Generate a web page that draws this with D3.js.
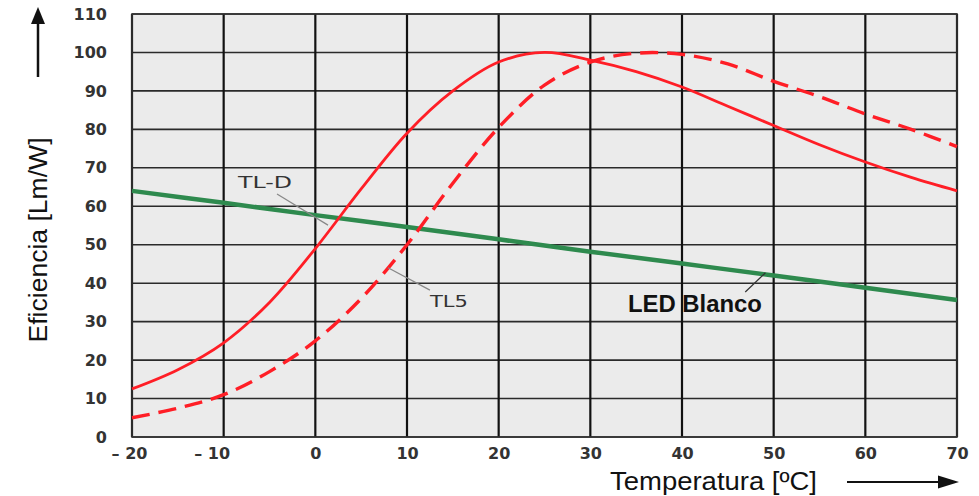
<!DOCTYPE html>
<html><head><meta charset="utf-8">
<script src="https://cdn.jsdelivr.net/npm/d3@7/dist/d3.min.js"></script>
<style>body{margin:0;background:#fff;} svg{display:block;}</style>
</head><body>
<svg id="c" width="979" height="496"></svg>
<script>
// ---- data ----
const temps = [-20,-15,-10,-5,0,5,10,15,20,25,30,35,40,45,50,55,60,65,70];
const tld   = [12.5,17.5,24.5,35,49,64.5,79,90,97.5,100,98,95,91,86,81,76,71.5,67.5,64];
const tl5   = [5,7.5,11,17,25,36,50,66,80.5,91.5,97.5,99.8,99.5,97,92.5,88.5,84,80,75.5];
const ledTemps = [-20,-10,0,10,20,30,40,50,60,70];
const led   = [64,60.9,57.7,54.6,51.4,48.2,45.1,42,38.8,35.6];
const xTicks = [-20,-10,0,10,20,30,40,50,60,70];
const xTickLabels = ["\u2013 20","\u2013 10","0","10","20","30","40","50","60","70"];
const yTicks = [0,10,20,30,40,50,60,70,80,90,100,110];
const annotations = [
  {text:"TL-D", t:-8.44, v:64.8, len:54, size:16, weight:400, font:"DejaVu Sans", color:"#333", line:[[-4.18,63.2],[1.38,55.1]], lc:"#888"},
  {text:"TL5", t:12.5, v:33.8, len:38, size:16, weight:400, font:"DejaVu Sans", color:"#333", line:[[7.93,44.0],[12.5,38.2]], lc:"#888"},
  {text:"LED Blanco", t:34.1, v:32.5, len:134, size:24, weight:700, font:"Liberation Sans", color:"#111", line:[[46.9,37.7],[49.1,42.7]], lc:"#333"}
];

// ---- layout ----
const L=132, R=957, T=14, B=437;
const svg = d3.select("#c");
const x = d3.scaleLinear().domain([-20,70]).range([L,R]);
const y = d3.scaleLinear().domain([0,110]).range([B,T]);

svg.append("rect").attr("x",L).attr("y",T).attr("width",R-L).attr("height",B-T).attr("fill","#ebebeb");

// grid
svg.append("g").selectAll("line").data(yTicks).join("line")
  .attr("x1",L).attr("x2",R).attr("y1",d=>y(d)).attr("y2",d=>y(d))
  .attr("stroke","#2a2a2a").attr("stroke-width",1.6);
svg.append("g").selectAll("line").data(xTicks).join("line")
  .attr("y1",T).attr("y2",B).attr("x1",d=>x(d)).attr("x2",d=>x(d))
  .attr("stroke","#111").attr("stroke-width",2.2);
svg.append("rect").attr("x",L).attr("y",T).attr("width",R-L).attr("height",B-T)
  .attr("fill","none").attr("stroke","#333").attr("stroke-width",1.6);

// axes labels via d3 axes
const yAxis = svg.append("g").attr("transform",`translate(${L},0)`)
  .call(d3.axisLeft(y).tickValues(yTicks).tickSize(0).tickPadding(25));
yAxis.select(".domain").remove();
yAxis.selectAll("text").attr("font-family","DejaVu Sans").attr("font-weight",700)
  .attr("font-size",16).attr("fill","#333");

const xAxis = svg.append("g").attr("transform",`translate(0,${B})`)
  .call(d3.axisBottom(x).tickValues(xTicks).tickSize(0).tickPadding(11)
        .tickFormat((d,i)=>xTickLabels[i]));
xAxis.select(".domain").remove();
xAxis.selectAll("text").attr("font-family","DejaVu Sans").attr("font-weight",700)
  .attr("font-size",16).attr("fill","#333")
  .attr("dx",(d)=> d===-10 ? -12 : (d===-20 ? -3 : 0));

// lines
const line = d3.line().x(d=>x(d[0])).y(d=>y(d[1])).curve(d3.curveCatmullRom.alpha(0.5));
svg.append("path").datum(ledTemps.map((t,i)=>[t,led[i]])).attr("d",line)
  .attr("fill","none").attr("stroke","#2e8a4e").attr("stroke-width",4.5);
svg.append("path").datum(temps.map((t,i)=>[t,tl5[i]])).attr("d",line)
  .attr("fill","none").attr("stroke","#ff1e26").attr("stroke-width",3.4).attr("stroke-dasharray","18,9");
svg.append("path").datum(temps.map((t,i)=>[t,tld[i]])).attr("d",line)
  .attr("fill","none").attr("stroke","#ff1e26").attr("stroke-width",2.8);

// annotations
annotations.forEach(a=>{
  svg.append("line").attr("x1",x(a.line[0][0])).attr("y1",y(a.line[0][1]))
    .attr("x2",x(a.line[1][0])).attr("y2",y(a.line[1][1]))
    .attr("stroke",a.lc).attr("stroke-width",1.2);
  svg.append("text").attr("x",x(a.t)).attr("y",y(a.v)).text(a.text)
    .attr("font-family",a.font).attr("font-size",a.size).attr("font-weight",a.weight)
    .attr("fill",a.color).attr("textLength",a.len).attr("lengthAdjust","spacingAndGlyphs");
});

// titles
svg.append("text").attr("transform","translate(47,240) rotate(-90)").attr("text-anchor","middle")
  .attr("font-family","Liberation Sans").attr("font-size",26).attr("fill","#111")
  .attr("textLength",205).attr("lengthAdjust","spacingAndGlyphs").text("Eficiencia [Lm/W]");
svg.append("text").attr("x",610).attr("y",490)
  .attr("font-family","Liberation Sans").attr("font-size",26).attr("fill","#111")
  .attr("textLength",207).attr("lengthAdjust","spacingAndGlyphs").text("Temperatura [ºC]");

// arrows
svg.append("line").attr("x1",38).attr("x2",38).attr("y1",77).attr("y2",20).attr("stroke","#111").attr("stroke-width",2.5);
svg.append("path").attr("d","M38,7 L31,24 L45,24 Z").attr("fill","#111");
svg.append("line").attr("x1",847).attr("x2",945).attr("y1",482).attr("y2",482).attr("stroke","#111").attr("stroke-width",2.2);
svg.append("path").attr("d","M959,482 L938,475.5 L938,488.5 Z").attr("fill","#111");
</script>
</body></html>
